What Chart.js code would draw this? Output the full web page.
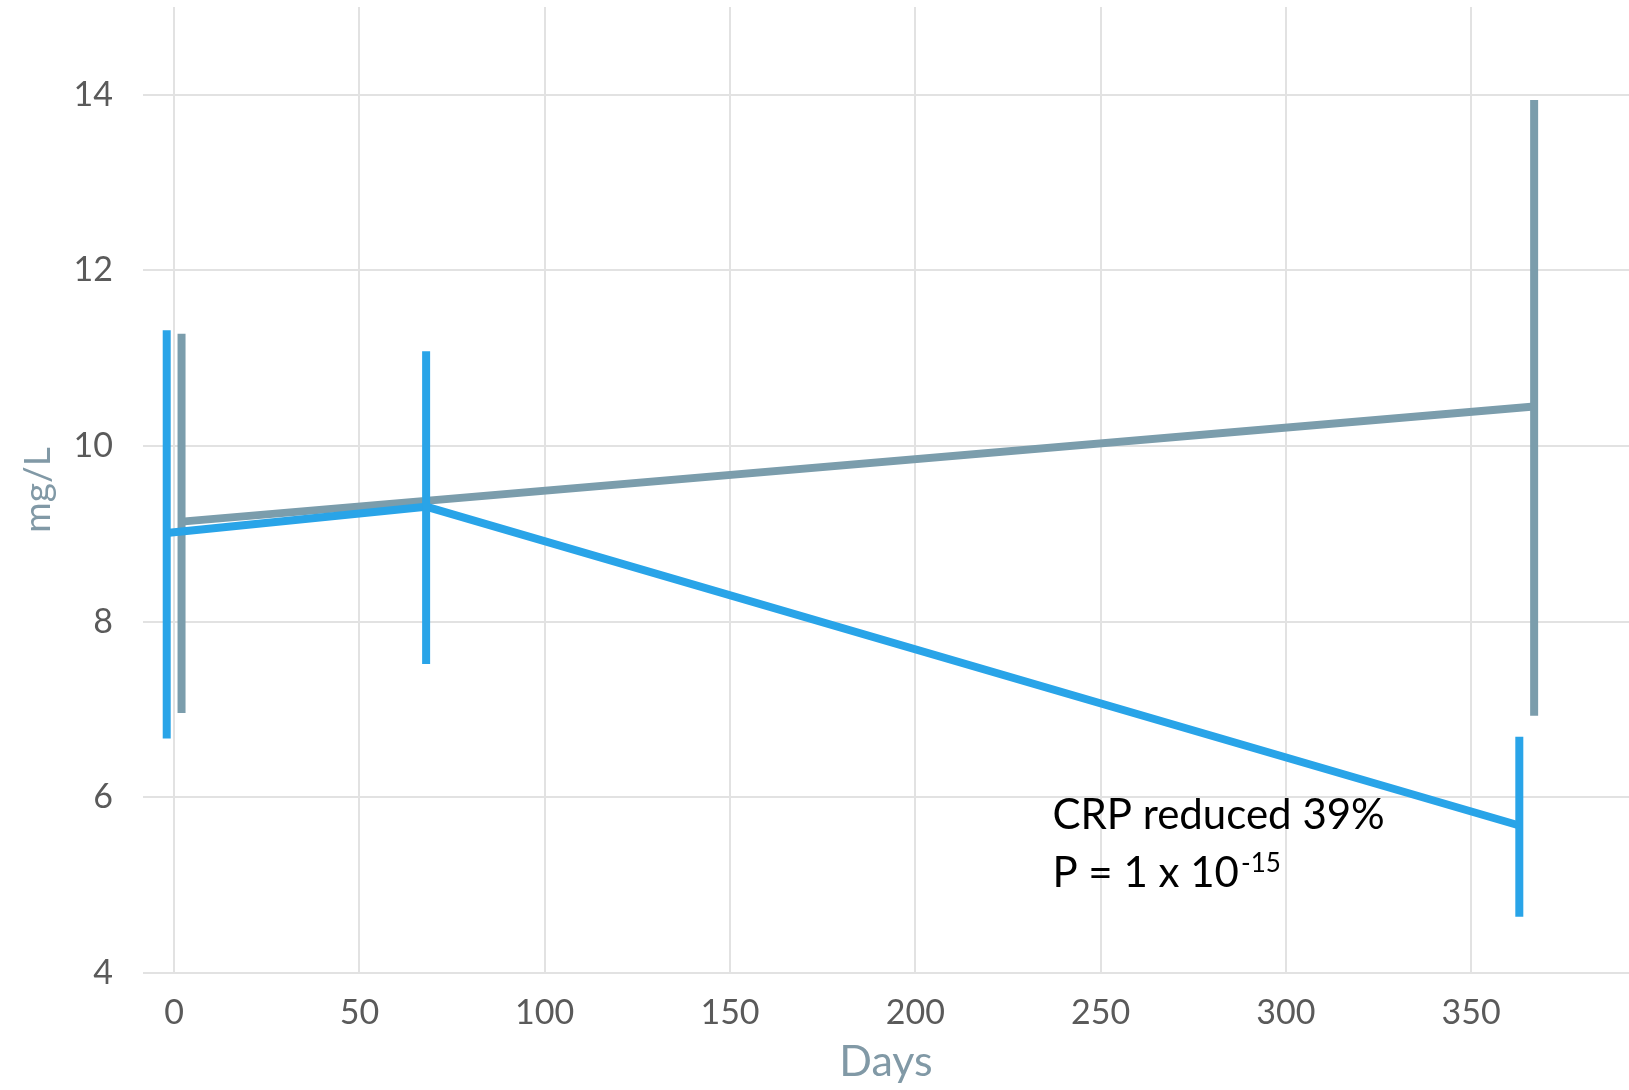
<!DOCTYPE html>
<html>
<head>
<meta charset="utf-8">
<title>CRP over time</title>
<script src="https://cdn.jsdelivr.net/npm/chart.js@4.4.1/dist/chart.umd.min.js"></script>
<style>
  html, body { margin: 0; padding: 0; background: #ffffff; }
  #wrap { width: 1629px; height: 1090px; position: relative; }
  canvas { display: block; }
</style>
</head>
<body>
<div id="wrap"><canvas id="crp" width="1629" height="1090"></canvas></div>
<script>
// Treated group: mean CRP (mg/L) with error bar limits
const treatedDays = [-2, 68, 363];
const treatedMean = [9.01, 9.31, 5.68];
const treatedLow  = [6.67, 7.52, 4.64];
const treatedHigh = [11.32, 11.08, 6.69];

// Control group
const controlDays = [2, 367];
const controlMean = [9.14, 10.45];
const controlLow  = [6.96, 6.93];
const controlHigh = [11.28, 13.94];

// Axis ticks and titles
const dayTicks = [0, 50, 100, 150, 200, 250, 300, 350];
const crpTicks = [4, 6, 8, 10, 12, 14];
const xTitle = 'Days';
const yTitle = 'mg/L';

// Annotation text and its anchor (days, mg/L)
const noteLine1 = 'CRP reduced 39%';
const noteLine2 = 'P = 1 x 10';
const noteExponent = '-15';
const noteAnchor = { day: 237, value: 5.64 };

const TREATED_COLOR = '#29a4e8';
const CONTROL_COLOR = '#7b9dac';

function lineSeries(days, values, color, order) {
  return {
    data: days.map((d, i) => ({ x: d, y: values[i] })),
    showLine: true,
    borderColor: color,
    backgroundColor: color,
    borderWidth: 8,
    pointRadius: 0,
    pointHoverRadius: 0,
    tension: 0,
    borderJoinStyle: 'round',
    borderCapStyle: 'butt',
    order: order
  };
}

function errorBars(days, low, high, color, order) {
  return days.map((d, i) => ({
    data: [{ x: d, y: low[i] }, { x: d, y: high[i] }],
    showLine: true,
    borderColor: color,
    backgroundColor: color,
    borderWidth: 8,
    pointRadius: 0,
    pointHoverRadius: 0,
    borderCapStyle: 'butt',
    order: order
  }));
}

const datasets = [
  ...errorBars(treatedDays, treatedLow, treatedHigh, TREATED_COLOR, 0),
  lineSeries(treatedDays, treatedMean, TREATED_COLOR, 0),
  ...errorBars(controlDays, controlLow, controlHigh, CONTROL_COLOR, 1),
  lineSeries(controlDays, controlMean, CONTROL_COLOR, 1)
];

const noteText = {
  id: 'noteText',
  afterDatasetsDraw(chart) {
    const { ctx, scales } = chart;
    const x = scales.x.getPixelForValue(noteAnchor.day);
    const y = scales.y.getPixelForValue(noteAnchor.value);
    ctx.save();
    ctx.fillStyle = '#000000';
    ctx.textAlign = 'left';
    ctx.textBaseline = 'alphabetic';
    ctx.font = '42px Lato';
    ctx.fillText(noteLine1, x, y);
    ctx.fillText(noteLine2, x, y + 58);
    const w = ctx.measureText(noteLine2).width;
    ctx.font = '26px Lato';
    ctx.fillText(noteExponent, x + w + 2, y + 43);
    ctx.restore();
  }
};

const tickFont = { family: 'Lato', size: 34 };

// Fixed axis sizes; label-based edge padding is dropped so the plot
// area runs from the layout padding to the canvas edges.
function fixSize(prop, size) {
  return s => {
    s[prop] = size;
    s.paddingTop = 0;
    s.paddingBottom = 0;
    s.paddingLeft = 0;
    s.paddingRight = 0;
  };
}

function build() {
  new Chart(document.getElementById('crp'), {
    type: 'scatter',
    data: { datasets },
    plugins: [noteText],
    options: {
      responsive: false,
      animation: false,
      devicePixelRatio: 1,
      layout: { padding: { top: 7, right: 0, bottom: 0, left: 0 } },
      plugins: { legend: { display: false }, tooltip: { enabled: false } },
      scales: {
        x: {
          type: 'linear',
          min: -8.4,
          max: 392.6,
          afterBuildTicks: s => { s.ticks = dayTicks.map(v => ({ value: v })); },
          afterFit: fixSize('height', 117),
          grid: { color: '#e2e2e2', lineWidth: 2, drawTicks: false },
          border: { display: false },
          ticks: { font: tickFont, color: '#5a5a5a', padding: 20, maxRotation: 0, autoSkip: false },
          title: {
            display: true, text: xTitle, color: '#8199a6',
            font: { family: 'Lato', size: 43 }, padding: { top: 0, bottom: 2 }
          }
        },
        y: {
          type: 'linear',
          min: 4,
          max: 15,
          afterBuildTicks: s => { s.ticks = crpTicks.map(v => ({ value: v })); },
          afterFit: fixSize('width', 143),
          grid: { color: '#e2e2e2', lineWidth: 2, drawTicks: false },
          border: { display: false },
          ticks: { font: tickFont, color: '#5a5a5a', padding: 30 },
          title: {
            display: true, text: yTitle, color: '#8199a6',
            font: { family: 'Lato', size: 37 }, padding: { top: 16, bottom: 0 }
          }
        }
      }
    }
  });
}

Promise.all([
  document.fonts.load('34px Lato'),
  document.fonts.load('42px Lato')
]).then(build, build);
</script>
</body>
</html>
